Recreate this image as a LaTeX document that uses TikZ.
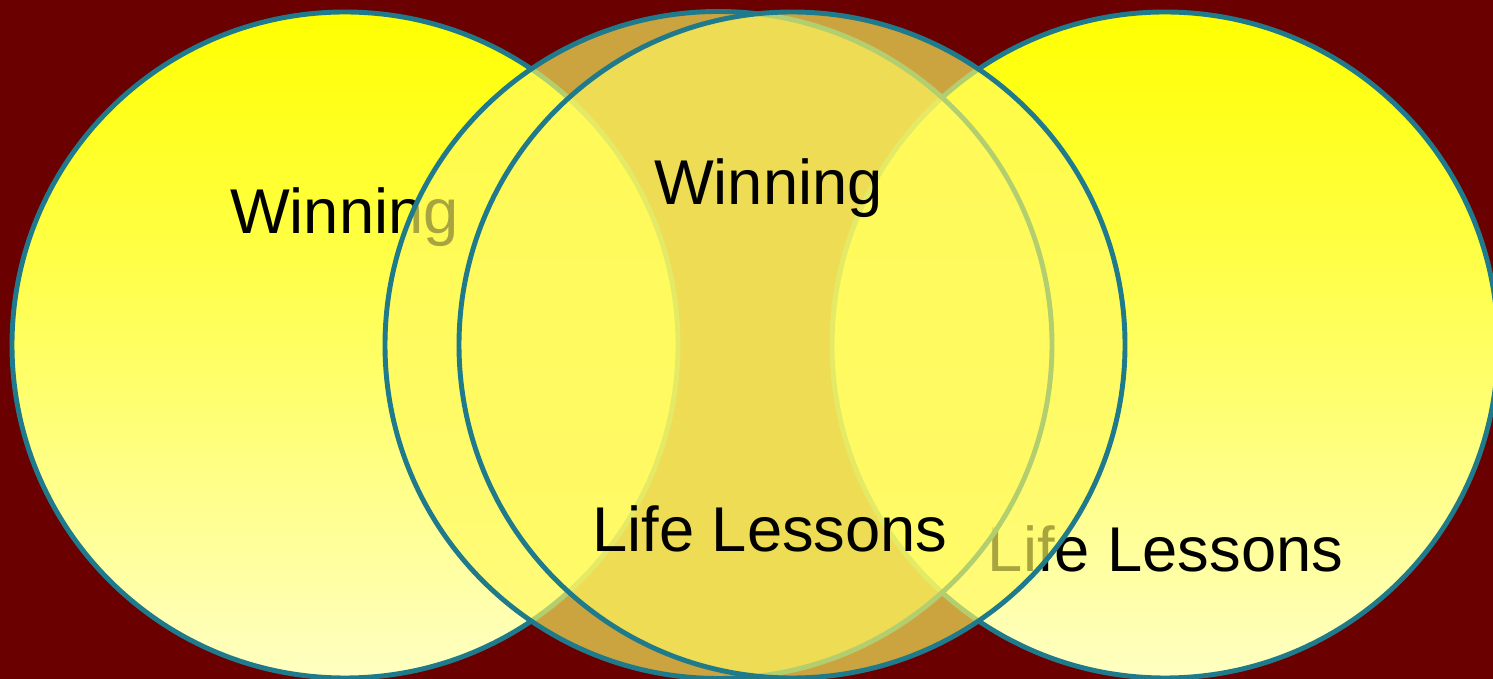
\documentclass[tikz,border=0pt]{standalone}
\usepackage{fontspec}
\setmainfont{Liberation Sans}
\usepackage{xcolor}
\definecolor{bgmaroon}{RGB}{107,0,0}
\definecolor{ringteal}{RGB}{31,122,140}
\definecolor{sunyellow}{RGB}{255,255,0}
\definecolor{paleyellow}{RGB}{255,255,194}
\definecolor{mustard}{RGB}{255,250,96}

\begin{document}
\begin{tikzpicture}[
    outerring/.style={draw=ringteal, line width=1.4pt, top color=sunyellow, bottom color=paleyellow},
    innerring/.style={draw=ringteal, line width=1.4pt, fill=mustard, fill opacity=0.66},
    lbl/.style={inner sep=0pt, anchor=base, font=\fontsize{18}{20}\selectfont}]
  \useasboundingbox (0,0) rectangle (14.93,6.79);
  \clip (0,0) rectangle (14.93,6.79);
  \fill[bgmaroon] (0,0) rectangle (14.93,6.79);
  % outer circles
  \path[outerring] (3.45,3.34) circle (3.33);
  \node[lbl] (winleft) at (3.445,4.45) {Winning};
  \path[outerring] (11.65,3.34) circle (3.33);
  \node[lbl] (lessonsright) at (11.655,1.07) {Life Lessons};
  % overlapping middle circles
  \path[innerring] (7.185,3.34) circle (3.335);
  \path[innerring] (7.92,3.34) circle (3.33);
  \node[lbl] (wincenter) at (7.685,4.74) {Winning};
  \node[lbl] (lessonscenter) at (7.70,1.27) {Life Lessons};
\end{tikzpicture}
\end{document}
